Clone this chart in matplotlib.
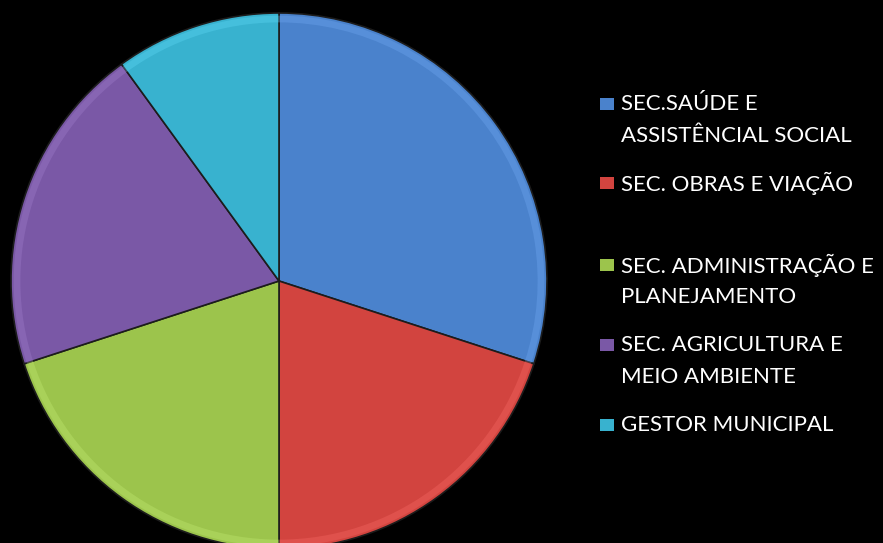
import matplotlib
matplotlib.use("Agg")
import matplotlib.pyplot as plt
from matplotlib.patches import Rectangle
import matplotlib.colors as mcolors

categories = ["SEC.SAÚDE E\nASSISTÊNCIAL SOCIAL", "SEC. OBRAS E VIAÇÃO",
              "SEC. ADMINISTRAÇÃO E\nPLANEJAMENTO", "SEC. AGRICULTURA E\nMEIO AMBIENTE",
              "GESTOR MUNICIPAL"]
values = [30, 20, 20, 20, 10]
colors = ["#4a82cc", "#d2443f", "#9cc44c", "#7a58a6", "#38b2cf"]

W, H = 883, 543
fig = plt.figure(figsize=(W / 100, H / 100), dpi=100, facecolor="black")

cx, cy, r = 279, 281, 268
ax = fig.add_axes([(cx - r) / W, (H - cy - r) / H, 2 * r / W, 2 * r / H])
ax.set_facecolor("black")
ax.pie(values, colors=colors, startangle=90, counterclock=False, radius=1,
       wedgeprops=dict(edgecolor="#1c1c1c", linewidth=1.2))
# subtle lighter rim for a bevel look
light = [tuple(min(1, c + 0.15) for c in mcolors.to_rgb(col)) for col in colors]
ax.pie(values, colors=light, startangle=90, counterclock=False, radius=0.99,
       wedgeprops=dict(width=0.025, edgecolor="none", alpha=0.35))
ax.set_xlim(-1, 1)
ax.set_ylim(-1, 1)
ax.set_aspect("equal")
ax.axis("off")

plt.rcParams["font.family"] = ["Lato", "DejaVu Sans"]
entry_y = [104, 183, 265, 345, 425]
line_gap = 32
for lab, col, y in zip(categories, colors, entry_y):
    fig.patches.append(Rectangle((600 / W, (H - y - 6) / H), 14 / W, 12 / H,
                                 transform=fig.transFigure, facecolor=col,
                                 edgecolor="none"))
    for i, line in enumerate(lab.split("\n")):
        fig.text(621 / W, (H - y - i * line_gap) / H, line, color="white",
                 fontsize=16, va="center", ha="left")

fig.savefig("out.png", dpi=100, facecolor="black")
